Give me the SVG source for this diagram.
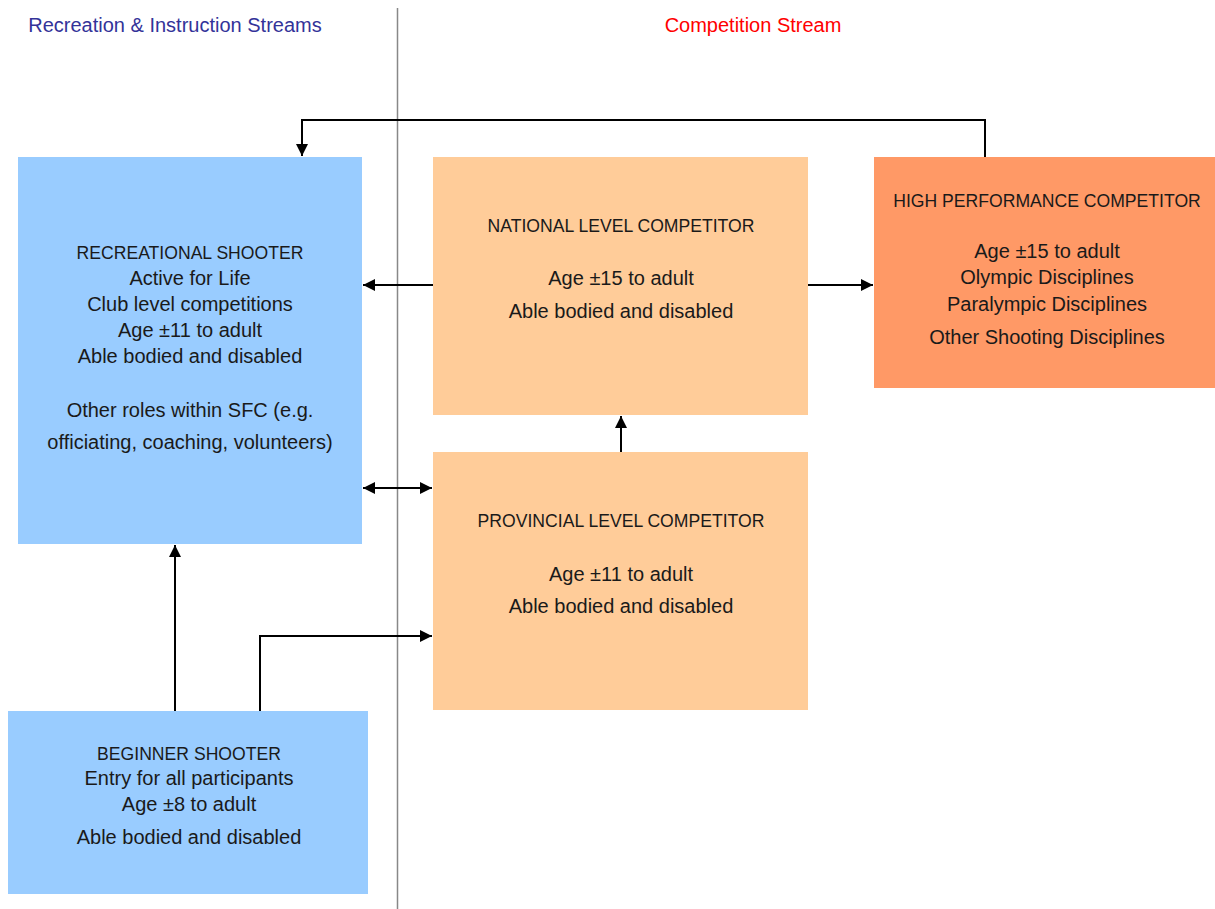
<svg xmlns="http://www.w3.org/2000/svg" width="1215" height="909" viewBox="0 0 1215 909">
<defs>
<style>
text{font-family:"Liberation Sans",Arial,sans-serif;font-size:20px;fill:#1a1a1a;text-anchor:middle}
.t{font-size:17.6px}
.blue{fill:#99CCFF}
.orange{fill:#FFCC99}
.hp{fill:#FF9966}
.c{fill:none;stroke:#000;stroke-width:2}
</style>
<marker id="ah" viewBox="0 0 10 10" refX="10" refY="5" markerWidth="6" markerHeight="6" orient="auto-start-reverse" markerUnits="strokeWidth">
<path d="M0,0 L10,5 L0,10 z" fill="#000"/>
</marker>
</defs>
<rect width="1215" height="909" fill="#fff"/>
<line x1="397.5" y1="8" x2="397.5" y2="909" stroke="#888" stroke-width="1.5"/>
<text x="175" y="32" style="fill:#333399">Recreation &amp; Instruction Streams</text>
<text x="753" y="32" style="fill:#FF0000">Competition Stream</text>

<g id="recreational">
<rect class="blue" x="18" y="157" width="344" height="387"/>
<text class="t" x="190" y="259">RECREATIONAL SHOOTER</text>
<text x="190" y="285">Active for Life</text>
<text x="190" y="311">Club level competitions</text>
<text x="190" y="337">Age ±11 to adult</text>
<text x="190" y="363">Able bodied and disabled</text>
<text x="190" y="417">Other roles within SFC (e.g.</text>
<text x="190" y="449">officiating, coaching, volunteers)</text>
</g>
<g id="beginner">
<rect class="blue" x="8" y="711" width="360" height="183"/>
<text class="t" x="189" y="760">BEGINNER SHOOTER</text>
<text x="189" y="785">Entry for all participants</text>
<text x="189" y="811">Age ±8 to adult</text>
<text x="189" y="844">Able bodied and disabled</text>
</g>
<g id="national">
<rect class="orange" x="433" y="157" width="375" height="258"/>
<text class="t" x="621" y="232">NATIONAL LEVEL COMPETITOR</text>
<text x="621" y="285">Age ±15 to adult</text>
<text x="621" y="318">Able bodied and disabled</text>
</g>
<g id="provincial">
<rect class="orange" x="433" y="452" width="375" height="258"/>
<text class="t" x="621" y="527">PROVINCIAL LEVEL COMPETITOR</text>
<text x="621" y="581">Age ±11 to adult</text>
<text x="621" y="613">Able bodied and disabled</text>
</g>
<g id="highperformance">
<rect class="hp" x="874" y="157" width="341" height="231"/>
<text class="t" x="1047" y="207">HIGH PERFORMANCE COMPETITOR</text>
<text x="1047" y="258">Age ±15 to adult</text>
<text x="1047" y="284">Olympic Disciplines</text>
<text x="1047" y="311">Paralympic Disciplines</text>
<text x="1047" y="344">Other Shooting Disciplines</text>
</g>
<g id="connectors">
<path class="c" d="M985,157 V120 H302 V156" marker-end="url(#ah)"/>
<path class="c" d="M433,285 H363" marker-end="url(#ah)"/>
<path class="c" d="M363,488 H432" marker-start="url(#ah)" marker-end="url(#ah)"/>
<path class="c" d="M808,285 H873" marker-end="url(#ah)"/>
<path class="c" d="M621,452 V416" marker-end="url(#ah)"/>
<path class="c" d="M175,711 V545" marker-end="url(#ah)"/>
<path class="c" d="M260,711 V636 H432" marker-end="url(#ah)"/>
</g>
</svg>
